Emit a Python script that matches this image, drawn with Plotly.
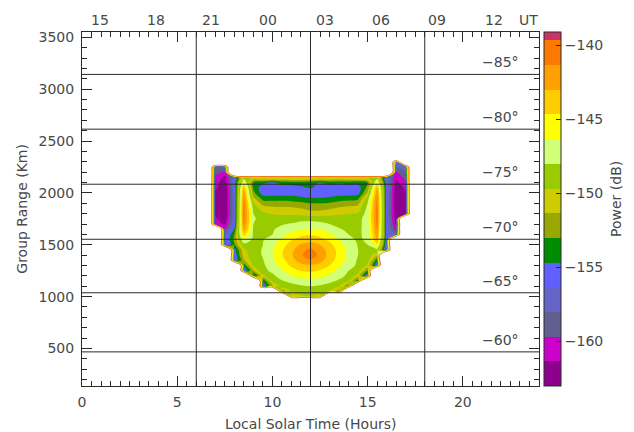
import plotly.graph_objects as go

N = None
OUT = -105.0  # value standing for "no echo" outside the observed region

# Local solar time (hours) of each grid column
lt_cols = [6.5, 7.0, 7.5, 8.0, 8.5, 9.0, 9.5, 10.0, 10.5, 11.0, 11.5, 12.0,
           12.5, 13.0, 13.5, 14.0, 14.5, 15.0, 15.5, 16.0, 16.5, 17.0, 17.5]
# Group range (km) of each grid row
range_rows = [950, 1000, 1050, 1100, 1150, 1200, 1250, 1300, 1350, 1400, 1450,
              1500, 1550, 1600, 1650, 1700, 1750, 1800, 1850, 1900, 1950, 2000,
              2050, 2100, 2150, 2200, 2250, 2300, 2350]

# Power (dB), one list per group range row
r950 = [N, N, N, N, N, N, N, N, N, N, N, N, N, N, N, N, N, N, N, N, N, N, N]
r1000 = [N, N, N, N, N, N, N, N, N, -150.8, -150.0, -149.8, -150.5, N, N, N, N, N, N, N, N, N, N]
r1050 = [N, N, N, N, N, N, N, N, -152.5, -149.5, -149.0, -148.8, -149.0, -149.5, -152.5, N, N, N, N, N, N, N, N]
r1100 = [N, N, N, N, N, N, -156.0, -151.5, -149.0, -148.5, -148.2, -148.0, -148.2, -148.5, -149.5, -153.0, N, N, N, N, N, N, N]
r1150 = [N, N, N, N, N, N, -154.5, -149.5, -148.1, -147.6, -147.1, -146.9, -147.2, -147.7, -148.2, -149.5, -154.0, N, N, N, N, N, N]
r1200 = [N, N, N, N, N, -155.5, -150.0, -148.3, -147.4, -146.4, -145.8, -145.6, -146.0, -146.6, -147.6, -148.3, -150.5, -156.0, N, N, N, N, N]
r1250 = [N, N, N, N, -156.0, -151.5, -148.4, -147.7, -146.5, -145.4, -144.6, -144.4, -144.8, -145.6, -146.8, -148.0, -148.8, -153.0, N, N, N, N, N]
r1300 = [N, N, N, N, -154.0, -149.5, -148.3, -147.1, -145.7, -144.4, -143.5, -143.2, -143.6, -144.7, -146.0, -147.4, -148.3, -150.0, -156.0, N, N, N, N]
r1350 = [N, N, N, -156.5, -151.5, -148.8, -148.1, -146.7, -145.2, -143.6, -142.2, -141.6, -142.4, -144.0, -145.4, -147.0, -148.2, -149.0, -154.0, N, N, N, N]
r1400 = [N, N, N, -156.0, -150.5, -148.6, -147.9, -146.4, -144.8, -143.2, -141.6, -140.2, -141.9, -143.6, -145.2, -146.8, -148.0, -148.6, -151.0, N, N, N, N]
r1450 = [N, N, N, -155.5, -150.0, -148.5, -147.9, -146.5, -144.9, -143.4, -141.9, -140.9, -142.2, -143.7, -145.2, -146.8, -148.0, -148.3, -148.0, -157.0, N, N, N]
r1500 = [N, N, -157.5, -153.0, -148.5, -148.3, -148.0, -146.8, -145.3, -144.0, -142.8, -142.4, -143.0, -144.2, -145.6, -147.1, -148.1, -148.0, -145.0, -156.5, N, N, N]
r1550 = [N, N, -157.0, -152.5, -146.5, -148.3, -148.1, -147.3, -146.0, -144.8, -144.0, -143.6, -144.1, -145.1, -146.3, -147.6, -148.2, -147.8, -143.0, -156.0, N, N, N]
r1600 = [N, N, -157.5, -153.0, -144.0, -148.3, -148.2, -148.0, -146.8, -145.8, -145.2, -144.9, -145.3, -146.0, -147.2, -148.0, -148.3, -147.5, -141.8, -155.5, -158.5, N, N]
r1650 = [N, N, -160.0, -154.5, -142.0, -148.2, -148.3, -148.1, -147.7, -146.9, -146.4, -146.2, -146.4, -147.1, -147.9, -148.2, -148.4, -147.3, -141.2, -156.0, -160.5, N, N]
r1700 = [N, -160.0, -161.8, -156.0, -141.0, -148.0, -148.4, -148.3, -148.1, -147.9, -147.6, -147.4, -147.6, -148.0, -148.3, -148.4, -148.5, -147.2, -140.8, -156.0, -161.8, N, N]
r1750 = [N, -161.0, -162.6, -156.5, -140.6, -147.8, -148.6, -148.8, -148.8, -148.6, -148.4, -148.5, -148.6, -148.7, -148.8, -148.8, -148.7, -147.0, -140.6, -156.0, -162.4, N, N]
r1800 = [N, -161.5, -163.0, -156.8, -140.5, -148.0, -149.3, -149.8, -150.0, -150.0, -150.2, -150.6, -150.6, -150.3, -150.0, -149.8, -149.5, -147.2, -140.5, -156.0, -163.0, -161.5, N]
r1850 = [N, -161.5, -163.0, -156.8, -140.6, -148.5, -150.5, -150.9, -151.0, -151.0, -151.3, -151.8, -151.8, -151.5, -151.0, -150.8, -150.5, -147.5, -140.6, -156.0, -163.0, -161.5, N]
r1900 = [N, -161.5, -163.0, -156.8, -140.8, -149.5, -152.0, -152.2, -152.2, -152.3, -152.6, -153.0, -153.0, -152.8, -152.3, -152.0, -151.8, -148.0, -140.8, -156.0, -163.0, -161.5, N]
r1950 = [N, -161.5, -163.0, -156.8, -141.2, -151.0, -153.8, -153.9, -153.9, -154.0, -154.3, -154.6, -154.6, -154.4, -154.0, -153.8, -153.5, -149.0, -141.0, -156.0, -163.0, -161.5, N]
r2000 = [N, -161.5, -163.0, -156.8, -141.8, -152.5, -155.5, -155.6, -155.6, -155.5, -155.6, -155.8, -155.8, -155.6, -155.5, -155.5, -155.3, -151.0, -141.5, -156.0, -162.8, -161.5, N]
r2050 = [N, -161.0, -162.8, -156.5, -143.0, -153.5, -155.6, -155.6, -155.6, -155.5, -155.0, -154.5, -155.2, -155.6, -155.6, -155.6, -155.5, -152.5, -142.5, -156.0, -162.5, -161.0, N]
r2100 = [N, -160.5, -162.4, -156.0, -146.0, -153.5, -154.2, -155.0, -154.0, -153.8, -153.8, -154.0, -154.8, -154.0, -154.5, -154.0, -154.2, -153.0, -146.0, -156.0, -161.8, -160.0, N]
r2150 = [N, -160.0, -161.8, -156.5, -149.0, -149.5, -149.0, -149.0, -149.0, -149.0, -149.0, -149.0, -149.0, -149.0, -149.0, -149.0, -149.0, -149.0, -149.0, -156.5, -161.0, -159.0, N]
r2200 = [N, -159.0, -160.0, N, N, N, N, N, N, N, N, N, N, N, N, N, N, N, N, N, -160.0, -158.0, N]
r2250 = [N, -158.0, -157.0, N, N, N, N, N, N, N, N, N, N, N, N, N, N, N, N, N, -158.0, -157.0, N]
r2300 = [N, N, N, N, N, N, N, N, N, N, N, N, N, N, N, N, N, N, N, N, -157.0, N, N]
r2350 = [N, N, N, N, N, N, N, N, N, N, N, N, N, N, N, N, N, N, N, N, N, N, N]

power_db = [r950, r1000, r1050, r1100, r1150, r1200, r1250, r1300, r1350, r1400,
            r1450, r1500, r1550, r1600, r1650, r1700, r1750, r1800, r1850, r1900,
            r1950, r2000, r2050, r2100, r2150, r2200, r2250, r2300, r2350]

# Contour levels (dB) and colours
level_start = -163.0
level_step = 5.0 / 3.0
n_bands = 15
band_colors = ["#8c008c", "#cc00cc", "#606090", "#6464c8", "#6060ff",
               "#008c00", "#99a800", "#cccc00", "#99cc00", "#d2ff78",
               "#ffff00", "#ffcc00", "#ffa000", "#ff7800", "#cc3366"]
cbar_top = -139.1

# Latitude grid lines (group range km) and their labels
lat_ranges = [3143, 2615, 2084, 1553, 1037, 467]
lat_labels = ["\u221285\u00b0", "\u221280\u00b0", "\u221275\u00b0",
              "\u221270\u00b0", "\u221265\u00b0", "\u221260\u00b0"]
# Universal time labels on the top and their local solar time positions
ut_labels = ["15", "18", "21", "00", "03", "06", "09", "12"]
ut_lt_pos = [0.96, 3.9, 6.78, 9.79, 12.77, 15.68, 18.62, 21.64]
# Vertical guide lines (local solar time)
lt_lines = [6, 12, 18]

TXT = "#484848"
LINE = "#2a2a2a"
FONT = "DejaVu Sans"
FS = 14

# Pad the grid with "no echo" cells well beyond the axes so its frame is clipped away
x_grid = [-2.0] + lt_cols + [26.0]
y_grid = [0] + range_rows + [4000]
z_inner = [[OUT if v is None else v for v in row] for row in power_db]
z = [[OUT] * len(x_grid)] + [[OUT] + row + [OUT] for row in z_inner] + [[OUT] * len(x_grid)]

cstart = level_start + level_step
cend = level_start + n_bands * level_step
fill_scale = [[i / n_bands, band_colors[i] if i < n_bands else "#ffffff"]
              for i in range(n_bands + 1)]

fig = go.Figure()
fig.add_trace(go.Contour(
    x=x_grid, y=y_grid, z=z,
    autocontour=False,
    contours=dict(start=cstart, end=cend, size=level_step, coloring="fill", showlines=False),
    colorscale=fill_scale, showscale=False, line=dict(width=0),
    hoverinfo="skip",
))

# colorbar via a hidden heatmap with a stepped colourscale
span = cbar_top - level_start
step_scale = []
for i, c in enumerate(band_colors):
    lo = min(i * level_step / span, 1.0)
    hi = min((i + 1) * level_step / span, 1.0)
    if lo >= 1.0:
        break
    step_scale.append([lo, c])
    step_scale.append([hi, c])
if step_scale[-1][0] < 1.0:
    step_scale.append([1.0, step_scale[-1][1]])

fig.add_trace(go.Heatmap(
    x=[-10, -9], y=[-500, -400], z=[[level_start, cbar_top], [level_start, cbar_top]],
    zmin=level_start, zmax=cbar_top, colorscale=step_scale, hoverinfo="skip",
    colorbar=dict(
        x=(544.3 - 82) / 457, xanchor="left", xpad=0, xref="paper",
        y=0.5, yanchor="middle", len=1.0, ypad=0, thickness=17,
        outlinewidth=1, outlinecolor=LINE,
        tickvals=[-160, -155, -150, -145, -140],
        ticks="inside", ticklen=5, tickwidth=1, tickcolor=LINE,
        tickfont=dict(family=FONT, size=FS, color=TXT),
    ),
))

shapes = []
for r in lat_ranges:
    shapes.append(dict(type="line", xref="x", yref="y", x0=0, x1=24, y0=r, y1=r,
                       line=dict(color=LINE, width=1)))
for t in lt_lines:
    shapes.append(dict(type="line", xref="x", yref="paper", x0=t, x1=t, y0=0, y1=1,
                       line=dict(color=LINE, width=1)))

ann = []
for lab, r in zip(lat_labels, lat_ranges):
    ann.append(dict(text=lab, xref="x", yref="y", x=23.05, y=r, xanchor="right",
                    yanchor="middle", yshift=12, showarrow=False,
                    font=dict(family=FONT, size=FS, color=TXT)))
for lab, t in zip(ut_labels, ut_lt_pos):
    ann.append(dict(text=lab, xref="x", yref="paper", x=t, y=1, xanchor="center",
                    yanchor="middle", yshift=12, showarrow=False,
                    font=dict(family=FONT, size=FS, color=TXT)))
ann.append(dict(text="UT", xref="paper", yref="paper", x=(540 - 82) / 457, y=1,
                xanchor="right", yanchor="middle", yshift=12, showarrow=False,
                font=dict(family=FONT, size=FS, color=TXT)))
ann.append(dict(text="Local Solar Time (Hours)", xref="paper", yref="paper", x=0.5, y=0,
                xanchor="center", yanchor="middle", yshift=-38, showarrow=False,
                font=dict(family=FONT, size=FS, color=TXT)))
ann.append(dict(text="Group Range (Km)", xref="paper", yref="paper", x=(21.7 - 82) / 457,
                y=0.5, xanchor="center", yanchor="middle", textangle=-90, showarrow=False,
                font=dict(family=FONT, size=FS, color=TXT)))
ann.append(dict(text="Power (dB)", xref="paper", yref="paper", x=(616 - 82) / 457,
                y=(386 - 199) / 354, xanchor="center", yanchor="middle", textangle=-90,
                showarrow=False, font=dict(family=FONT, size=FS, color=TXT)))

axis_common = dict(showline=True, linecolor=LINE, linewidth=1, mirror="allticks",
                   ticks="inside", ticklen=10, tickwidth=1, tickcolor=LINE,
                   showgrid=False, zeroline=False,
                   tickfont=dict(family=FONT, size=FS, color=TXT))

fig.update_layout(
    width=634, height=432,
    margin=dict(l=82, r=95, t=32, b=46),
    paper_bgcolor="white", plot_bgcolor="white",
    showlegend=False,
    shapes=shapes, annotations=ann,
    xaxis=dict(range=[0, 24], tickvals=[0, 5, 10, 15, 20], ticklabelstandoff=3,
               minor=dict(dtick=0.5, tick0=0, ticks="inside", ticklen=5, tickcolor=LINE),
               **axis_common),
    yaxis=dict(range=[138, 3552], tickvals=[500, 1000, 1500, 2000, 2500, 3000, 3500],
               ticklabelstandoff=4,
               minor=dict(dtick=100, tick0=0, ticks="inside", ticklen=5, tickcolor=LINE),
               **axis_common),
)

fig.write_html("out.html")
